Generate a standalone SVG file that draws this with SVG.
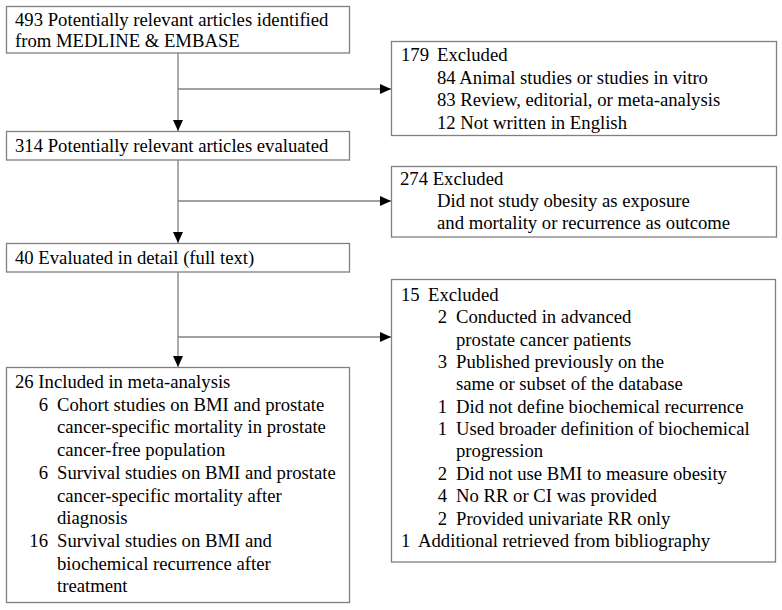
<svg xmlns="http://www.w3.org/2000/svg" width="782" height="610" viewBox="0 0 782 610">
<defs>
<style>
.box{fill:#fff;stroke:#808080;stroke-width:1.3}
.t{font-family:"Liberation Serif","Times New Roman",serif;font-size:18.7px;fill:#000}
.n{text-anchor:end}
.c{fill:none;stroke:#808080;stroke-width:1.3}
</style>
<marker id="ah" markerUnits="userSpaceOnUse" markerWidth="11" markerHeight="10" refX="11" refY="5" orient="auto">
<path d="M0,0 L11,5 L0,10 z" fill="#000"/>
</marker>
</defs>
<rect width="782" height="610" fill="#fff"/>
<g id="connectors">
<line class="c" x1="178" y1="53" x2="178" y2="131" marker-end="url(#ah)"/>
<line class="c" x1="178" y1="89" x2="391" y2="89" marker-end="url(#ah)"/>
<line class="c" x1="178" y1="160" x2="178" y2="243" marker-end="url(#ah)"/>
<line class="c" x1="178" y1="201" x2="391" y2="201" marker-end="url(#ah)"/>
<line class="c" x1="178" y1="272" x2="178" y2="367" marker-end="url(#ah)"/>
<line class="c" x1="178" y1="337" x2="391" y2="337" marker-end="url(#ah)"/>
</g>
<g id="identified">
<rect class="box" x="6.5" y="6.5" width="343" height="46.5"/>
<text class="t" x="15" y="26">493 Potentially relevant articles identified</text>
<text class="t" x="15" y="47">from MEDLINE &amp; EMBASE</text>
</g>
<g id="excluded179">
<rect class="box" x="391.5" y="41.5" width="385" height="94"/>
<text class="t" x="401" y="61">179</text>
<text class="t" x="437" y="61">Excluded</text>
<text class="t" x="437" y="83.5">84 Animal studies or studies in vitro</text>
<text class="t" x="437" y="106">83 Review, editorial, or meta-analysis</text>
<text class="t" x="437" y="128.5">12 Not written in English</text>
</g>
<g id="evaluated314">
<rect class="box" x="6.5" y="131.5" width="343" height="28.5"/>
<text class="t" x="15" y="151.5">314 Potentially relevant articles evaluated</text>
</g>
<g id="excluded274">
<rect class="box" x="391.5" y="166.5" width="385" height="70.5"/>
<text class="t" x="400" y="185">274 Excluded</text>
<text class="t" x="437" y="207">Did not study obesity as exposure</text>
<text class="t" x="437" y="229">and mortality or recurrence as outcome</text>
</g>
<g id="evaluated40">
<rect class="box" x="6.5" y="243.5" width="343" height="28.5"/>
<text class="t" x="15" y="263.5">40 Evaluated in detail (full text)</text>
</g>
<g id="excluded15">
<rect class="box" x="391.5" y="279.5" width="384" height="282.5"/>
<text class="t" x="401" y="301">15</text>
<text class="t" x="428" y="301">Excluded</text>
<text class="t n" x="447" y="323">2</text>
<text class="t" x="456" y="323">Conducted in advanced</text>
<text class="t" x="456" y="345.5">prostate cancer patients</text>
<text class="t n" x="447" y="368">3</text>
<text class="t" x="456" y="368">Published previously on the</text>
<text class="t" x="456" y="390">same or subset of the database</text>
<text class="t n" x="447" y="413">1</text>
<text class="t" x="456" y="413">Did not define biochemical recurrence</text>
<text class="t n" x="447" y="435">1</text>
<text class="t" x="456" y="435">Used broader definition of biochemical</text>
<text class="t" x="456" y="457">progression</text>
<text class="t n" x="447" y="480">2</text>
<text class="t" x="456" y="480">Did not use BMI to measure obesity</text>
<text class="t n" x="447" y="502">4</text>
<text class="t" x="456" y="502">No RR or CI was provided</text>
<text class="t n" x="447" y="525">2</text>
<text class="t" x="456" y="525">Provided univariate RR only</text>
<text class="t" x="401" y="547">1</text>
<text class="t" x="418" y="547">Additional retrieved from bibliography</text>
</g>
<g id="included26">
<rect class="box" x="6.5" y="367.5" width="343" height="235"/>
<text class="t" x="15" y="388">26 Included in meta-analysis</text>
<text class="t n" x="48" y="411">6</text>
<text class="t" x="57" y="411">Cohort studies on BMI and prostate</text>
<text class="t" x="57" y="433">cancer-specific mortality in prostate</text>
<text class="t" x="57" y="456">cancer-free population</text>
<text class="t n" x="48" y="479">6</text>
<text class="t" x="57" y="479">Survival studies on BMI and prostate</text>
<text class="t" x="57" y="502">cancer-specific mortality after</text>
<text class="t" x="57" y="524">diagnosis</text>
<text class="t n" x="48" y="547">16</text>
<text class="t" x="57" y="547">Survival studies on BMI and</text>
<text class="t" x="57" y="570">biochemical recurrence after</text>
<text class="t" x="57" y="592">treatment</text>
</g>
</svg>
